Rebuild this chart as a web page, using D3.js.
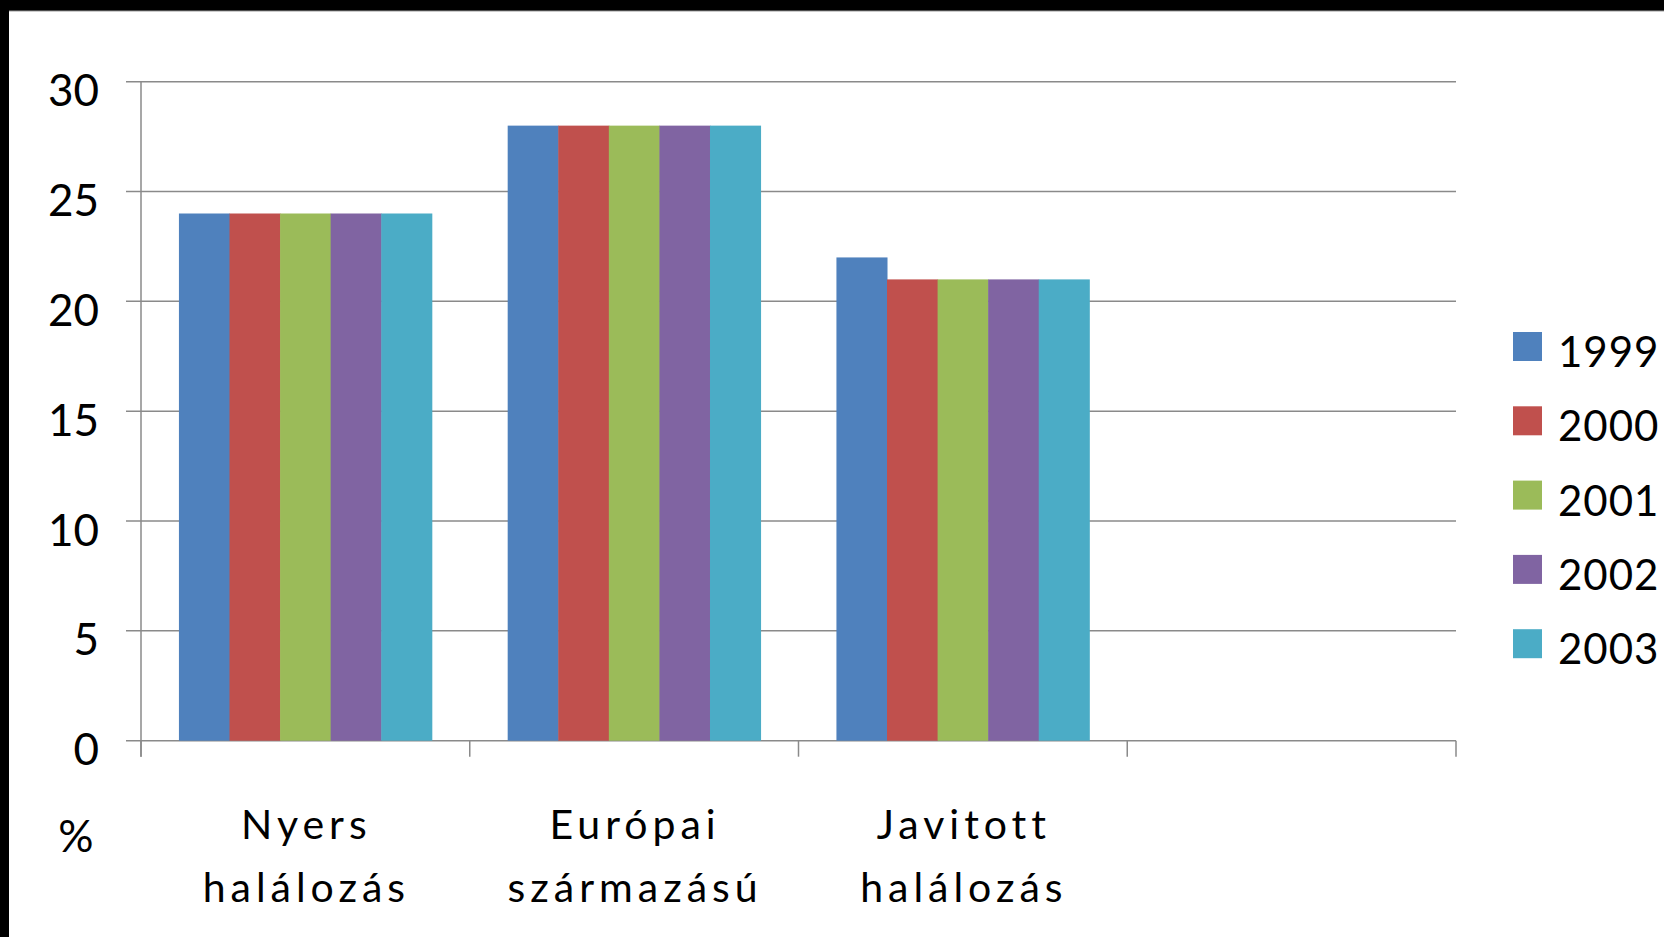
<!DOCTYPE html>
<html>
<head>
<meta charset="utf-8">
<script src="https://cdn.jsdelivr.net/npm/d3@7/dist/d3.min.js"></script>
<style>
  html, body { margin: 0; padding: 0; background: #000; }
  svg { display: block; }
  text { font-family: Lato, "Open Sans", sans-serif; fill: #000; }
</style>
</head>
<body>
<svg id="chart" width="1664" height="937"></svg>
<script>
// Categories (two-line labels); the fourth slot is left empty
const categories = ["Nyers halálozás", "Európai származású", "Javitott halálozás", "(üres)"];
const categoryLines = [["Nyers", "halálozás"], ["Európai", "származású"], ["Javitott", "halálozás"], []];

// Series (years) and their values per category, in %
const years = ["1999", "2000", "2001", "2002", "2003"];
const v1999 = [24, 28, 22];
const v2000 = [24, 28, 21];
const v2001 = [24, 28, 21];
const v2002 = [24, 28, 21];
const v2003 = [24, 28, 21];
const seriesValues = [v1999, v2000, v2001, v2002, v2003];

const yTicks = [0, 5, 10, 15, 20, 25, 30];
const colors = ["#4F81BD", "#C0504D", "#9BBB59", "#8064A2", "#4BACC6"];

const svg = d3.select("#chart");

// white slide area inside black frame
svg.append("rect").attr("x", 0).attr("y", 0).attr("width", 1664).attr("height", 937).attr("fill", "#000");
svg.append("rect").attr("x", 9).attr("y", 11).attr("width", 1655).attr("height", 926).attr("fill", "#fff");
svg.append("line").attr("x1", 9).attr("x2", 1664).attr("y1", 11).attr("y2", 11)
  .attr("stroke", "#999").attr("stroke-width", 1);

const plot = { left: 141, right: 1456, top: 81.7, bottom: 740.7 };

const x = d3.scaleBand().domain(categories).range([plot.left, plot.right]).paddingInner(0).paddingOuter(0);
const y = d3.scaleLinear().domain([0, 30]).range([plot.bottom, plot.top]);

// gap width 150% between groups: 5 bars + 1.5 bar widths per band
const barW = x.bandwidth() / (years.length + 1.5);
const xs = d3.scaleBand().domain(years)
  .range([barW * 0.75, barW * 0.75 + barW * years.length]).padding(0);

const gridColor = "#8a8a8a";

// horizontal gridlines with left ticks
svg.append("g").selectAll("line").data(yTicks).join("line")
  .attr("x1", plot.left - 15).attr("x2", plot.right)
  .attr("y1", d => y(d)).attr("y2", d => y(d))
  .attr("stroke", gridColor).attr("stroke-width", 1.5);

// y tick labels
svg.append("g").selectAll("text").data(yTicks).join("text")
  .attr("x", 99).attr("y", d => y(d) + 7.5)
  .attr("text-anchor", "end").attr("dominant-baseline", "central")
  .attr("font-size", 44)
  .text(d => d);

// bars
const groups = svg.append("g").selectAll("g").data(categories.slice(0, 3)).join("g")
  .attr("transform", c => `translate(${x(c)},0)`);
groups.selectAll("rect")
  .data((c, ci) => years.map((yr, si) => ({ yr, si, v: seriesValues[si][ci] })))
  .join("rect")
  .attr("x", d => xs(d.yr))
  .attr("width", xs.bandwidth() + 0.5)
  .attr("y", d => y(d.v))
  .attr("height", d => y(0) - y(d.v))
  .attr("fill", d => colors[d.si]);

// y axis line
svg.append("line").attr("x1", plot.left).attr("x2", plot.left)
  .attr("y1", plot.top).attr("y2", plot.bottom + 16)
  .attr("stroke", gridColor).attr("stroke-width", 1.5);

// category boundary ticks
const boundaries = categories.map(c => x(c) + x.bandwidth()).concat([plot.left]);
svg.append("g").selectAll("line").data(boundaries).join("line")
  .attr("x1", d => d).attr("x2", d => d)
  .attr("y1", plot.bottom).attr("y2", plot.bottom + 16)
  .attr("stroke", gridColor).attr("stroke-width", 1.5);

// category labels
const catG = svg.append("g").selectAll("text").data(categories).join("text")
  .attr("text-anchor", "middle")
  .attr("font-size", 41)
  .attr("letter-spacing", "5px");
catG.selectAll("tspan").data((c, i) => categoryLines[i].map((t, li) => ({ t, li, c })))
  .join("tspan")
  .attr("x", d => x(d.c) + x.bandwidth() / 2 + 1)
  .attr("y", d => 839 + d.li * 63)
  .text(d => d.t);

// unit label
svg.append("text").attr("x", 76).attr("y", 852).attr("text-anchor", "middle")
  .attr("font-size", 44).text("%");

// legend
const leg = svg.append("g").selectAll("g").data(years).join("g")
  .attr("transform", (d, i) => `translate(1513, ${332 + i * 74.3})`);
leg.append("rect").attr("width", 29).attr("height", 29).attr("fill", (d, i) => colors[i]);
leg.append("text").attr("x", 45).attr("y", 35).attr("font-size", 42).attr("letter-spacing", "1px").text(d => d);
</script>
</body>
</html>
